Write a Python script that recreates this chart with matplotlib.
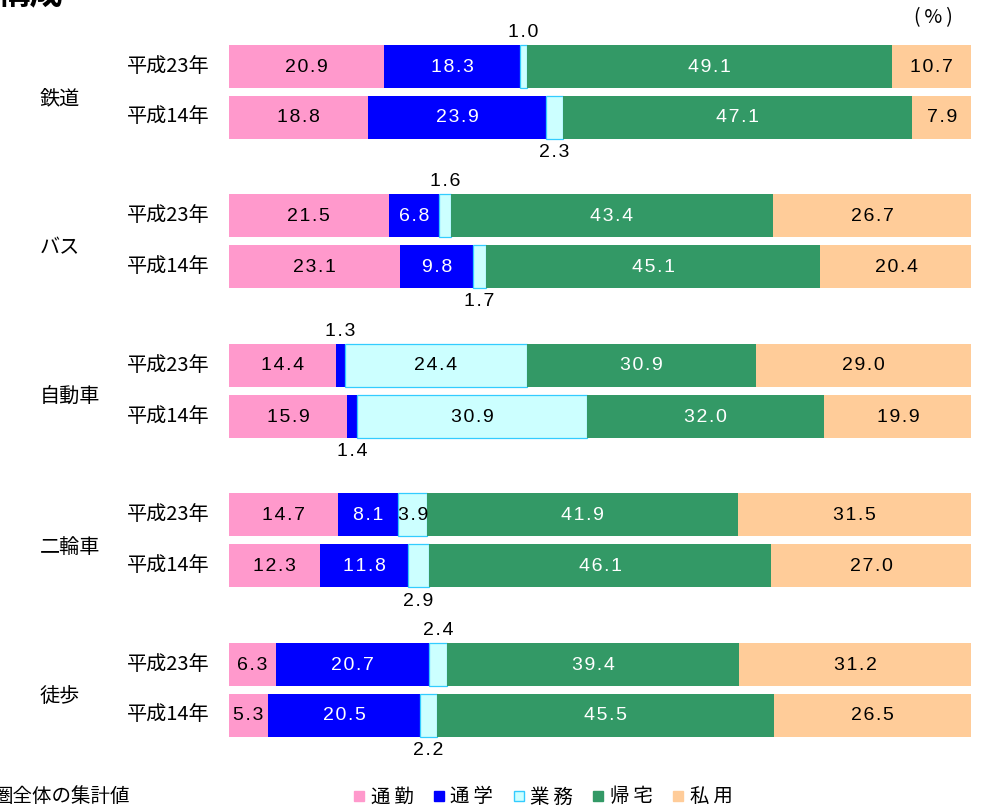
import matplotlib
matplotlib.use("Agg")
import matplotlib.pyplot as plt
from matplotlib.lines import Line2D
import numpy as np

plt.rcParams["font.family"] = ["Noto Sans CJK JP", "DejaVu Sans"]
NUM_FONT = ["Liberation Sans", "DejaVu Sans"]

modes = ["鉄道", "バス", "自動車", "二輪車", "徒歩"]
years = ["平成23年", "平成14年"]
purposes = ["通勤", "通学", "業務", "帰宅", "私用"]
colors = ["#FF99CC", "#0000FF", "#CCFFFF", "#339966", "#FFCC99"]
text_colors = ["black", "white", "black", "white", "black"]

# share (%) per mode: [H23 row, H14 row], columns follow `purposes`
tetsudo = [[20.9, 18.3, 1.0, 49.1, 10.7], [18.8, 23.9, 2.3, 47.1, 7.9]]
bus = [[21.5, 6.8, 1.6, 43.4, 26.7], [23.1, 9.8, 1.7, 45.1, 20.4]]
jidosha = [[14.4, 1.3, 24.4, 30.9, 29.0], [15.9, 1.4, 30.9, 32.0, 19.9]]
nirinsha = [[14.7, 8.1, 3.9, 41.9, 31.5], [12.3, 11.8, 2.9, 46.1, 27.0]]
toho = [[6.3, 20.7, 2.4, 39.4, 31.2], [5.3, 20.5, 2.2, 45.5, 26.5]]
shares = [tetsudo, bus, jidosha, nirinsha, toho]

W, H = 984, 808
fig = plt.figure(figsize=(W / 100, H / 100), dpi=100)
ax = fig.add_axes([229 / W, 0, 742 / W, 1])
ax.set_xlim(0, 100)
ax.set_ylim(H, 0)
ax.axis("off")

group_y = 91.5 + 149.5 * np.arange(len(modes))
row_off = [-25.5, 25.5]
bar_h = 43


def spaced(s, sep="\u200a"):
    # the source renders text with wide letter spacing
    return sep.join(s)


for gi, mode in enumerate(modes):
    gy = group_y[gi]
    fig.text(40 / W, 1 - (gy + 7) / H, mode, fontsize=14.5, va="center", ha="left")
    for ri, year in enumerate(years):
        y = gy + row_off[ri]
        fig.text(210 / W, 1 - y / H, year, fontsize=14.5, va="center", ha="right")
        left = 0.0
        for pi, v in enumerate(shares[gi][ri]):
            ec = "#33CCFF" if pi == 2 else colors[pi]
            ax.barh(y, v, left=left, height=bar_h, color=colors[pi],
                    edgecolor=ec, linewidth=0.9 if pi == 2 else 0)
            cx = left + v / 2
            label = spaced(f"{v:.1f}")
            if v < 3:
                ty = y - bar_h / 2 - 12 if ri == 0 else y + bar_h / 2 + 14
                ax.text(cx, ty, label, ha="center", va="center",
                        fontsize=14, color="black", family=NUM_FONT)
            else:
                ax.text(cx, y + 1, label, ha="center", va="center",
                        fontsize=14, color=text_colors[pi], family=NUM_FONT)
            left += v

fig.text(933 / W, 1 - 18 / H, "(\u2009%\u2009)", fontsize=14, ha="center", va="center")
fig.text(-4 / W, 1 - 10 / H, "構成", fontsize=24, fontweight="bold",
         ha="left", va="bottom")
fig.text(-7 / W, 1 - 796 / H, "圏全体の集計値", fontsize=14, ha="left", va="center")

handles = [Line2D([], [], marker="s", ls="", markersize=7.5, markerfacecolor=c,
                  markeredgecolor=("#33CCFF" if i == 2 else c))
           for i, c in enumerate(colors)]
fig.legend(handles, [spaced(p, "\u2009") for p in purposes], loc="center",
           bbox_to_anchor=(543 / W, 1 - 797 / H),
           ncol=5, frameon=False, fontsize=14, handlelength=0.6,
           handletextpad=0.3, columnspacing=1.0)

fig.savefig("out.png", dpi=100)
